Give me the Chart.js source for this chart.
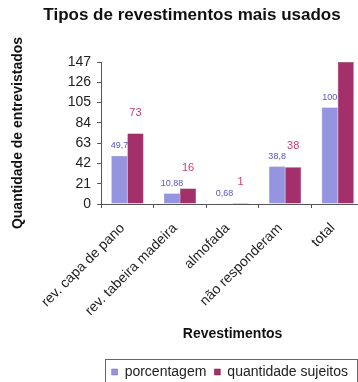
<!DOCTYPE html>
<html>
<head>
<meta charset="utf-8">
<script src="https://cdn.jsdelivr.net/npm/chart.js@4"></script>
<style>
  html, body { margin: 0; padding: 0; background: #fff; overflow: hidden; }
</style>
</head>
<body>
<canvas id="revChart" width="366" height="392"></canvas>
<script>
// Data
const categories = ['rev. capa de pano', 'rev. tabeira madeira', 'almofada', 'não responderam', 'total'];
const porcentagem = [49.7, 10.88, 0.68, 38.8, 100];
const quantidade = [73, 16, 1, 38, 147];
const porcentagemLabels = ['49,7', '10,88', '0,68', '38,8', '100'];
const quantidadeLabels = ['73', '16', '1', '38', ''];
const yTicks = [0, 21, 42, 63, 84, 105, 126, 147];

const FONT = "'Liberation Sans', Arial, sans-serif";

// title drawn by hand so it can sit a bit right of centre, like the original
const titlePlugin = {
  id: 'titleText',
  afterDraw(chart) {
    const ctx = chart.ctx;
    ctx.save();
    ctx.font = 'bold 17px ' + FONT;
    ctx.fillStyle = '#111';
    ctx.textAlign = 'center';
    ctx.textBaseline = 'middle';
    ctx.fillText('Tipos de revestimentos mais usados', 192, 15);
    ctx.restore();
  }
};

// value labels above the bars
const barLabels = {
  id: 'barLabels',
  afterDatasetsDraw(chart) {
    const ctx = chart.ctx;
    ctx.save();
    ctx.textAlign = 'center';
    ctx.textBaseline = 'middle';
    ctx.font = '9px ' + FONT;
    ctx.fillStyle = '#5656c0';
    chart.getDatasetMeta(0).data.forEach((bar, i) => {
      ctx.fillText(porcentagemLabels[i], bar.x, bar.y - 10);
    });
    ctx.font = '11px ' + FONT;
    ctx.fillStyle = '#cc3a78';
    chart.getDatasetMeta(1).data.forEach((bar, i) => {
      ctx.fillText(quantidadeLabels[i], bar.x, bar.y - 21);
    });
    ctx.restore();
  }
};

// pull the legend in from the right edge and frame it
const legendFrame = {
  id: 'legendFrame',
  afterLayout(chart) {
    chart.legend.right -= 8;
  },
  afterDraw(chart) {
    const boxes = chart.legend.legendHitBoxes;
    if (!boxes || !boxes.length) return;
    const first = boxes[0], last = boxes[boxes.length - 1];
    const cy = first.top + first.height / 2;
    const ctx = chart.ctx;
    ctx.save();
    ctx.strokeStyle = '#666';
    ctx.lineWidth = 1;
    const x0 = Math.round(first.left) - 6.5;
    const x1 = Math.round(last.left + last.width) + 9.5;
    ctx.strokeRect(x0, Math.round(cy) - 12.5, x1 - x0, 24);
    ctx.restore();
  }
};

const ctx = document.getElementById('revChart').getContext('2d');

new Chart(ctx, {
  type: 'bar',
  data: {
    labels: categories,
    datasets: [
      {
        label: 'porcentagem',
        data: porcentagem,
        backgroundColor: '#9494e0',
        borderColor: '#6a6ab0',
        borderWidth: 0.5,
        categoryPercentage: 0.61,
        barPercentage: 1
      },
      {
        label: 'quantidade sujeitos',
        data: quantidade,
        backgroundColor: '#a3306a',
        borderColor: '#7a2050',
        borderWidth: 0.5,
        categoryPercentage: 0.61,
        barPercentage: 1
      }
    ]
  },
  options: {
    responsive: false,
    animation: false,
    layout: { padding: { top: 62, left: 10, right: 2, bottom: 3 } },
    scales: {
      x: {
        afterFit(axis) {
          axis.height = 153; // fixed band for the slanted labels + axis title
        },
        grid: { drawOnChartArea: false, color: '#555', tickLength: 4 },
        border: { color: '#555' },
        ticks: {
          color: '#222',
          font: { family: FONT, size: 14 },
          padding: 12,
          labelOffset: -5,
          minRotation: 45,
          maxRotation: 45,
          autoSkip: false
        },
        title: {
          display: true,
          text: 'Revestimentos',
          color: '#111',
          font: { family: FONT, size: 14, weight: 'bold' },
          padding: { top: 4, bottom: 14 }
        }
      },
      y: {
        min: 0,
        max: 147,
        afterBuildTicks(axis) {
          axis.ticks = yTicks.map(v => ({ value: v }));
        },
        grid: { drawOnChartArea: false, color: '#555', tickLength: 4 },
        border: { color: '#555' },
        ticks: {
          color: '#222',
          font: { family: FONT, size: 14 },
          padding: 6,
          autoSkip: false
        },
        title: {
          display: true,
          text: 'Quantidade de entrevistados',
          color: '#111',
          font: { family: FONT, size: 14, weight: 'bold' },
          padding: { top: 0, bottom: 35 }
        }
      }
    },
    plugins: {
      title: { display: false },
      tooltip: { enabled: false },
      legend: {
        position: 'bottom',
        align: 'end',
        labels: {
          color: '#222',
          font: { family: FONT, size: 14 },
          boxWidth: 6,
          boxHeight: 6,
          padding: 8
        }
      }
    }
  },
  plugins: [titlePlugin, barLabels, legendFrame]
});
</script>
</body>
</html>
